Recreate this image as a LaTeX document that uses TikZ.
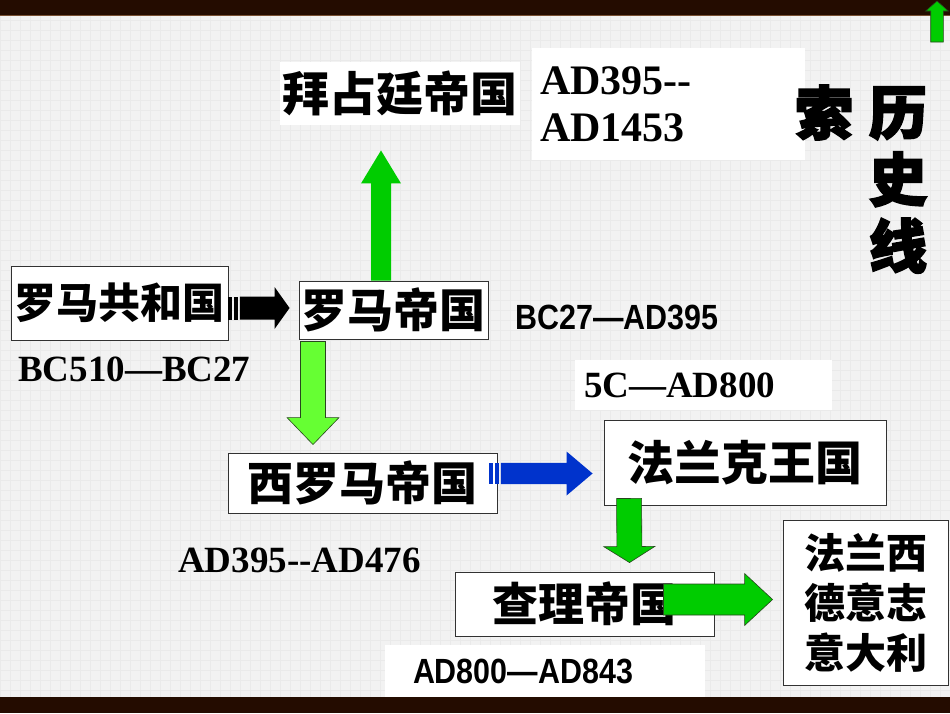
\documentclass[tikz,border=0pt]{standalone}
\usepackage{fontspec}
\setmainfont{Liberation Serif}
\newfontfamily\cjk{Noto Sans CJK SC}
\newfontfamily\heavycjk[FakeBold=3]{Noto Sans CJK SC}
\newfontfamily\narrowsans[FakeStretch=0.87]{Liberation Sans}
\usetikzlibrary{positioning, calc}
\definecolor{slidebg}{RGB}{242,242,242}
\definecolor{slidegrid}{RGB}{234,234,234}
\definecolor{slidebar}{RGB}{36,12,0}
\definecolor{barline}{RGB}{120,80,50}
\definecolor{boxline}{RGB}{50,50,50}
\definecolor{arrgreen}{RGB}{0,204,0}
\definecolor{arrlgreen}{RGB}{102,255,51}
\definecolor{arrblue}{RGB}{0,51,204}
\definecolor{arredge}{RGB}{40,70,30}
\tikzset{
  statebox/.style   = {draw=boxline, fill=white, line width=0.9pt, inner sep=0pt,
                       align=center, font={\cjk\bfseries\fontsize{#1}{50}\selectfont}},
  statebox/.default = 46,
  datetext/.style   = {inner sep=0pt, font={\bfseries\fontsize{37}{42}\selectfont}},
  datebox/.style    = {fill=white, inner ysep=0pt, align=left,
                       font={\bfseries\fontsize{37}{42}\selectfont}},
  narrowdate/.style = {inner sep=0pt, font={\narrowsans\bfseries\fontsize{35}{40}\selectfont}},
  titlechar/.style  = {inner sep=0pt, align=center,
                       font={\heavycjk\bfseries\fontsize{58}{66.7}\selectfont}},
  greenarr/.style   = {fill=arrgreen, draw=arredge, line width=0.6pt},
  upgreen/.style    = {fill=arrgreen, draw=none},
  lgreenarr/.style  = {fill=arrlgreen, draw=arredge, line width=0.6pt},
  blackarr/.style   = {fill=black, draw=none},
  bluearr/.style    = {fill=arrblue, draw=none},
}
% block arrow: style, start, tip, shaft half width, head half width, head length
\newcommand{\blockarrow}[6][]{%
  \coordinate (ba-h) at ($(#3)!#6!(#2)$);
  \filldraw[#1] ($(#2)!#4!90:(#3)$) -- ($(ba-h)!#4!90:(#3)$) -- ($(ba-h)!#5!90:(#3)$)
    -- (#3) -- ($(ba-h)!#5!-90:(#3)$) -- ($(ba-h)!#4!-90:(#3)$) -- ($(#2)!#4!-90:(#3)$) -- cycle;
}
% same, with two bars at the tail
\newcommand{\stripedarrow}[6][]{%
  \foreach \sa/\sb in {0pt/4pt, 5.5pt/10pt}{
    \coordinate (st-a) at ($(#2)!\sa!(#3)$);
    \coordinate (st-b) at ($(#2)!\sb!(#3)$);
    \fill[#1] ($(st-a)!#4!90:(#3)$) -- ($(st-b)!#4!90:(#3)$)
      -- ($(st-b)!#4!-90:(#3)$) -- ($(st-a)!#4!-90:(#3)$) -- cycle;
  }
  \coordinate (st-s) at ($(#2)!11.5pt!(#3)$);
  \blockarrow[#1]{st-s}{#3}{#4}{#5}{#6}
}
\begin{document}
\begin{tikzpicture}[x=1pt, y=-1pt]
  \useasboundingbox (0,0) rectangle (950,713);
  % slide background
  \fill[slidebg] (0,0) rectangle (950,713);
  \draw[slidegrid, line width=0.4pt, step=10pt] (0,15) grid (950,697);
  \fill[slidebar] (0,0) rectangle (950,15);
  \fill[slidebar] (0,697) rectangle (950,713);
  \draw[barline, line width=0.8pt] (0,15.5) -- (950,15.5);

  % states
  \node[statebox=42, minimum width=217pt, minimum height=74pt] (republic) at (119.5,303) {罗马共和国};
  \node[statebox, minimum width=189pt, minimum height=58pt] (empire) at (393.5,310) {罗马帝国};
  \node[statebox=47, draw=none, minimum width=240pt, minimum height=63pt] (byz) at (400,93.5) {拜占廷帝国};
  \node[statebox, minimum width=269pt, minimum height=60pt] (west) at (362.5,483) {西罗马帝国};
  \node[statebox=47, minimum width=282pt, minimum height=85pt] (frank) at (745,462.5) {法兰克王国};
  \node[statebox, minimum width=259pt, minimum height=64pt] (charles) at (584.5,604) {查理帝国};
  \node[statebox=41, minimum width=165pt, minimum height=165pt] (nations) at (865.5,602.5)
    {法兰西\\德意志\\意大利};

  % dates
  \node[datebox, font={\bfseries\fontsize{42}{47}\selectfont}, text width=257pt, inner xsep=8pt,
        minimum height=112pt] (byzdate) at (668.5,104) {AD395-{}-\\AD1453};
  \node[datetext, anchor=west] (repdate) at (18,369) {BC510—BC27};
  \node[narrowdate, anchor=west] (empdate) at (515,317.5) {BC27—AD395};
  \node[datetext, anchor=west] (westdate) at (178,560.5) {AD395-{}-AD476};
  \node[datebox, text width=239pt, inner xsep=9pt, minimum height=50pt] (frankdate) at (703.5,385) {5C—AD800};
  \node[narrowdate, fill=white, align=left, text width=264pt, inner xsep=28pt,
        minimum height=52pt] (chardate) at (545,671) {AD800—AD843};

  % title, read downwards from the right
  \node[titlechar] (titleA) at (898,180) {历\\史\\线};
  \node[titlechar] (titleB) at (824,112.5) {索};

  % arrows
  \coordinate (ra-s) at ($(republic.east)+(0,5)$);
  \coordinate (ra-e) at ($(empire.west)+(-9,-2)$);
  \stripedarrow[blackarr]{ra-s}{ra-e}{11.5pt}{21pt}{15pt}
  \coordinate (wf-s) at ($(west.east)+(-8,-9.5)$);
  \coordinate (wf-e) at ($(frank.west)+(-11,11)$);
  \stripedarrow[bluearr]{wf-s}{wf-e}{10.7pt}{22pt}{26pt}
  \coordinate (eb-s) at ($(empire.north)+(-12.5,0)$);
  \coordinate (eb-e) at ($(byz.south)+(-19,25)$);
  \blockarrow[upgreen]{eb-s}{eb-e}{10pt}{20pt}{33pt}
  \coordinate (ew-s) at ($(empire.south)+(-80.5,2)$);
  \coordinate (ew-e) at ($(west.north)+(-49.5,-8)$);
  \blockarrow[lgreenarr]{ew-s}{ew-e}{12.5pt}{26pt}{27pt}
  \coordinate (fc-s) at ($(frank.south west)+(25.5,-7)$);
  \coordinate (fc-e) at ($(charles.north)+(45,-9)$);
  \blockarrow[greenarr]{fc-s}{fc-e}{12.5pt}{25.5pt}{16pt}
  \coordinate (cn-s) at ($(charles.east)+(-51,-4.5)$);
  \coordinate (cn-e) at ($(nations.west)+(-10,-3)$);
  \blockarrow[greenarr]{cn-s}{cn-e}{15.5pt}{26pt}{28pt}

  % back button
  \coordinate (nav-s) at (937,42);
  \coordinate (nav-e) at (937,1);
  \blockarrow[greenarr]{nav-s}{nav-e}{6.3pt}{11.3pt}{10pt}
\end{tikzpicture}
\end{document}
